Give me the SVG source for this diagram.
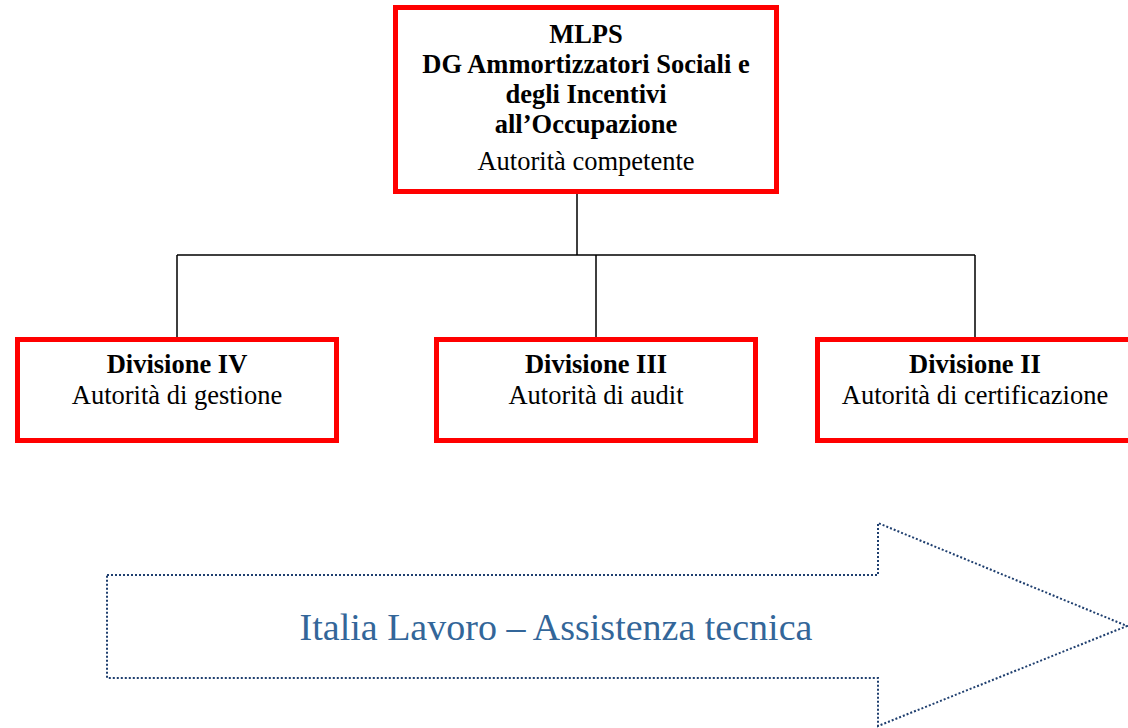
<svg xmlns="http://www.w3.org/2000/svg" width="1128" height="728" viewBox="0 0 1128 728">
<style>
.box{fill:#fff;stroke:#ff0000;stroke-width:5}
.t{font-family:"Liberation Serif","Times New Roman",serif;font-size:26.5px;fill:#000;text-anchor:middle}
.b{font-weight:bold}
.c{fill:none;stroke:#000;stroke-width:1.5}
.arrow{fill:#fff;stroke:#1f3f6f;stroke-width:2;stroke-dasharray:2 2}
.at{font-family:"Liberation Serif","Times New Roman",serif;font-size:38px;fill:#336699;text-anchor:middle}
</style>
<rect width="1128" height="728" fill="#fff"/>
<g id="connectors">
<path class="c" d="M577 193V255M177 255H975M177 255V337M596 255V337M975 255V337"/>
</g>
<g id="mlps">
<rect class="box" x="395.5" y="7.5" width="381" height="184"/>
<text class="t b" x="586" y="43">MLPS</text>
<text class="t b" x="586" y="73">DG Ammortizzatori Sociali e</text>
<text class="t b" x="586" y="103">degli Incentivi</text>
<text class="t b" x="586" y="133">all’Occupazione</text>
<text class="t" x="586" y="170">Autorità competente</text>
</g>
<g id="div4">
<rect class="box" x="17.5" y="339.5" width="319" height="101"/>
<text class="t b" x="177" y="373">Divisione IV</text>
<text class="t" x="177" y="404">Autorità di gestione</text>
</g>
<g id="div3">
<rect class="box" x="436.5" y="339.5" width="319" height="101"/>
<text class="t b" x="596" y="373">Divisione III</text>
<text class="t" x="596" y="404">Autorità di audit</text>
</g>
<g id="div2">
<rect class="box" x="817.5" y="339.5" width="319" height="101"/>
<text class="t b" x="975" y="373">Divisione II</text>
<text class="t" x="975" y="404">Autorità di certificazione</text>
</g>
<g id="italia-lavoro">
<polygon class="arrow" points="107,575 878,575 878,523 1127,626 878,726 878,678 107,678"/>
<text class="at" x="556" y="640">Italia Lavoro – Assistenza tecnica</text>
</g>
</svg>
